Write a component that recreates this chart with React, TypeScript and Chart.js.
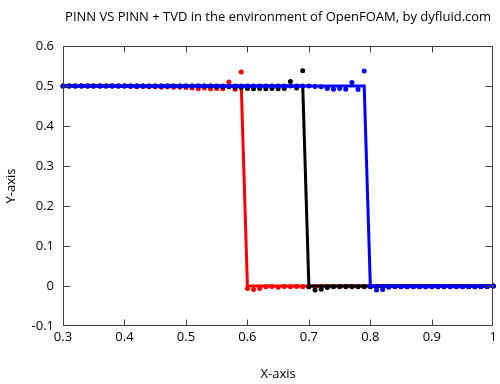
import React, { useEffect, useRef } from "react";
import { Chart, registerables } from "chart.js";

Chart.register(...registerables);

const TITLE = "PINN VS PINN + TVD in the environment of OpenFOAM, by dyfluid.com";
const X_TITLE = "X-axis";
const Y_TITLE = "Y-axis";

const X_TICKS = [0.3, 0.4, 0.5, 0.6, 0.7, 0.8, 0.9, 1.0];
const Y_TICKS = [-0.1, 0, 0.1, 0.2, 0.3, 0.4, 0.5, 0.6];

// Clean step curves (lines)
const RED_LINE_X = [0.3, 0.59, 0.6, 1.0];
const RED_LINE_Y = [0.5, 0.5, 0, 0];
const BLACK_LINE_X = [0.3, 0.69, 0.7, 1.0];
const BLACK_LINE_Y = [0.5, 0.5, 0, 0];
const BLUE_LINE_X = [0.3, 0.79, 0.8, 1.0];
const BLUE_LINE_Y = [0.5, 0.5, 0, 0];

// Sample positions of the dotted series
const DOT_X = [
  0.30, 0.31, 0.32, 0.33, 0.34, 0.35, 0.36, 0.37, 0.38, 0.39,
  0.40, 0.41, 0.42, 0.43, 0.44, 0.45, 0.46, 0.47, 0.48, 0.49,
  0.50, 0.51, 0.52, 0.53, 0.54, 0.55, 0.56, 0.57, 0.58, 0.59,
  0.60, 0.61, 0.62, 0.63, 0.64, 0.65, 0.66, 0.67, 0.68, 0.69,
  0.70, 0.71, 0.72, 0.73, 0.74, 0.75, 0.76, 0.77, 0.78, 0.79,
  0.80, 0.81, 0.82, 0.83, 0.84, 0.85, 0.86, 0.87, 0.88, 0.89,
  0.90, 0.91, 0.92, 0.93, 0.94, 0.95, 0.96, 0.97, 0.98, 0.99,
  1.00,
];

const RED_DOTS = [
  0.500, 0.500, 0.500, 0.500, 0.500, 0.500, 0.500, 0.500, 0.500, 0.500,
  0.500, 0.499, 0.498, 0.499, 0.498, 0.498, 0.497, 0.498, 0.497, 0.497,
  0.496, 0.495, 0.493, 0.495, 0.493, 0.494, 0.493, 0.510, 0.492, 0.535,
  -0.006, -0.009, -0.006, -0.002, -0.001, -0.003, -0.001, -0.002, -0.001, -0.002,
  -0.001, -0.002, -0.001, -0.002, -0.001, -0.002, -0.001, -0.002, -0.001, -0.002,
  -0.001, -0.002, -0.001, -0.002, -0.001, -0.002, -0.001, -0.002, -0.001, -0.002,
  -0.001, -0.002, -0.001, -0.002, -0.001, -0.002, -0.001, -0.002, -0.001, -0.001,
  0.000,
];

const BLACK_DOTS = [
  0.500, 0.500, 0.500, 0.500, 0.500, 0.500, 0.500, 0.500, 0.500, 0.500,
  0.500, 0.500, 0.500, 0.500, 0.500, 0.500, 0.500, 0.500, 0.500, 0.500,
  0.500, 0.500, 0.500, 0.500, 0.500, 0.499, 0.498, 0.498, 0.497, 0.496,
  0.494, 0.493, 0.494, 0.493, 0.494, 0.493, 0.494, 0.511, 0.495, 0.538,
  -0.002, -0.010, -0.008, -0.004, -0.002, -0.001, -0.002, -0.001, -0.002, -0.001,
  -0.002, -0.001, -0.002, -0.001, -0.002, -0.001, -0.002, -0.001, -0.002, -0.001,
  -0.002, -0.001, -0.002, -0.001, -0.002, -0.001, -0.002, -0.001, -0.002, -0.001,
  0.000,
];

const BLUE_DOTS = [
  0.500, 0.500, 0.500, 0.500, 0.500, 0.500, 0.500, 0.500, 0.500, 0.500,
  0.500, 0.500, 0.500, 0.500, 0.500, 0.500, 0.500, 0.500, 0.500, 0.500,
  0.500, 0.500, 0.500, 0.500, 0.500, 0.500, 0.500, 0.500, 0.500, 0.500,
  0.500, 0.500, 0.500, 0.500, 0.500, 0.500, 0.500, 0.500, 0.500, 0.500,
  0.500, 0.499, 0.498, 0.494, 0.492, 0.494, 0.492, 0.509, 0.491, 0.5375,
  0.000, -0.010, -0.009, -0.003, -0.001, -0.002, -0.001, -0.002, -0.001, -0.002,
  -0.001, -0.002, -0.001, -0.002, -0.001, -0.002, -0.001, -0.002, -0.001, -0.001,
  0.000,
];

const RED = "#ff0000";
const BLACK = "#000000";
const BLUE = "#0000ff";
const FONT = "'Open Sans', 'Noto Sans', sans-serif";
const FS = 13;

const zip = (xs: number[], ys: number[]) => xs.map((x, i) => ({ x, y: ys[i] }));

const framePlugin = {
  id: "gnuFrame",
  afterDatasetsDraw(chart: any) {
    const { ctx, chartArea, scales } = chart;
    const { left, right, top, bottom } = chartArea;
    const xs = scales.x;
    const ys = scales.y;
    const L = Math.round(left) + 0.5;
    const R = Math.round(right) - 0.5;
    const T = Math.round(top) + 0.5;
    const B = Math.round(bottom) - 0.5;
    ctx.save();
    ctx.strokeStyle = "#404040";
    ctx.lineWidth = 1;
    ctx.beginPath();
    ctx.rect(L, T, R - L, B - T);
    X_TICKS.forEach((v) => {
      let px = Math.round(xs.getPixelForValue(v)) + 0.5;
      if (px > R) px = R;
      ctx.moveTo(px, B);
      ctx.lineTo(px, B - 6);
      ctx.moveTo(px, T);
      ctx.lineTo(px, T + 6);
    });
    Y_TICKS.forEach((v) => {
      let py = Math.round(ys.getPixelForValue(v)) + 0.5;
      if (py > B) py = B;
      ctx.moveTo(L, py);
      ctx.lineTo(L + 7, py);
      ctx.moveTo(R, py);
      ctx.lineTo(R - 7, py);
    });
    ctx.stroke();
    ctx.restore();
  },
};

export default function App() {
  const ref = useRef<HTMLCanvasElement | null>(null);

  useEffect(() => {
    if (!ref.current) return;
    const lineDs = (xs: number[], ys: number[], color: string, order: number) => ({
      type: "line" as const,
      data: zip(xs, ys),
      borderColor: color,
      backgroundColor: color,
      borderWidth: 3,
      pointRadius: 0,
      tension: 0,
      fill: false,
      clip: false as any,
      order,
    });
    const dotDs = (ys: number[], color: string, order: number) => ({
      type: "line" as const,
      data: zip(DOT_X, ys),
      showLine: false,
      borderColor: color,
      backgroundColor: color,
      pointBackgroundColor: color,
      pointBorderWidth: 0,
      pointRadius: 2.5,
      clip: false as any,
      order,
    });
    const chart = new Chart(ref.current, {
      type: "line",
      data: {
        datasets: [
          lineDs(RED_LINE_X, RED_LINE_Y, RED, 6),
          dotDs(RED_DOTS, RED, 5),
          lineDs(BLACK_LINE_X, BLACK_LINE_Y, BLACK, 4),
          dotDs(BLACK_DOTS, BLACK, 3),
          lineDs(BLUE_LINE_X, BLUE_LINE_Y, BLUE, 2),
          dotDs(BLUE_DOTS, BLUE, 1),
        ],
      },
      options: {
        responsive: false,
        animation: false,
        layout: { padding: { top: 0, right: 6, left: 0, bottom: 0 } },
        plugins: {
          legend: { display: false },
          tooltip: { enabled: false },
          title: {
            display: true,
            fullSize: false,
            text: TITLE,
            color: "#000",
            font: { family: FONT, size: FS, weight: "normal" },
            padding: { top: 9, bottom: 21.4 },
          },
        },
        scales: {
          x: {
            type: "linear",
            min: 0.3,
            max: 1.0,
            grid: { display: false, drawTicks: false },
            border: { display: false },
            afterBuildTicks: (s: any) => {
              s.ticks = X_TICKS.map((v) => ({ value: v }));
            },
            afterFit: (s: any) => {
              s.height = 58;
            },
            ticks: {
              color: "#000",
              padding: 3,
              maxRotation: 0,
              autoSkip: false,
              font: { family: FONT, size: FS },
              callback: (v: any) => String(Math.round(Number(v) * 10) / 10),
            },
            title: {
              display: true,
              text: X_TITLE,
              color: "#000",
              font: { family: FONT, size: FS },
              padding: { top: 4, bottom: 2 },
            },
          },
          y: {
            type: "linear",
            min: -0.1,
            max: 0.6,
            grid: { display: false, drawTicks: false },
            border: { display: false },
            afterBuildTicks: (s: any) => {
              s.ticks = Y_TICKS.map((v) => ({ value: v }));
            },
            afterFit: (s: any) => {
              s.width = 63;
            },
            ticks: {
              color: "#000",
              padding: 9,
              autoSkip: false,
              font: { family: FONT, size: FS },
              callback: (v: any) => String(Math.round(Number(v) * 10) / 10),
            },
            title: {
              display: true,
              text: Y_TITLE,
              color: "#000",
              font: { family: FONT, size: FS },
              padding: { top: 3, bottom: 4 },
            },
          },
        },
      },
      plugins: [framePlugin],
    } as any);
    return () => chart.destroy();
  }, []);

  return (
    <div style={{ position: "absolute", left: 0, top: 0, width: 500, height: 384, background: "#fff" }}>
      <canvas ref={ref} width={500} height={384} style={{ display: "block" }} />
    </div>
  );
}
